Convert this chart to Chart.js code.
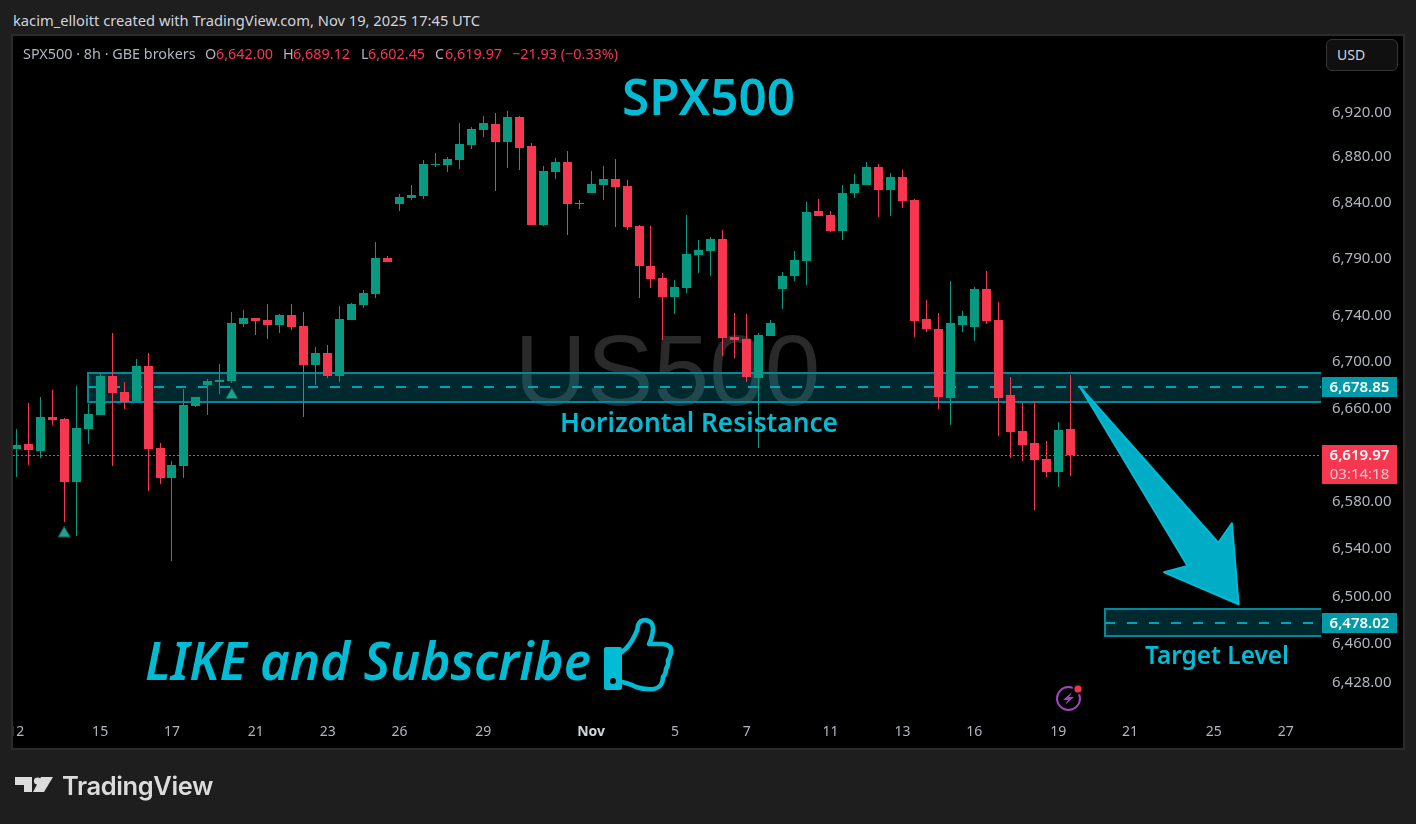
<!DOCTYPE html>
<html>
<head>
<meta charset="utf-8">
<title>SPX500 8h</title>
<script src="https://cdn.jsdelivr.net/npm/chart.js@4/dist/chart.umd.min.js"></script>
<style>
    html, body { margin: 0; padding: 0; width: 1416px; height: 824px; overflow: hidden; background: #1e1e1e; font-family: "Noto Sans", sans-serif; }
    #panel { position: absolute; left: 13px; top: 36px; width: 1390px; height: 712px; background: #000; outline: 2px solid #2b2b2b; }
    #chart { display: block; }
    #credit { position: absolute; left: 13px; top: 11px; font-size: 14.7px; line-height: 18px; color: #d1d4dc; white-space: nowrap; }
    .leg { position: absolute; top: 45px; font-size: 14.4px; line-height: 18px; white-space: nowrap; color: #b2b5be; }
    .leg.red { color: #f7374f; }
    #usd { position: absolute; left: 1326px; top: 39px; width: 72px; height: 32px; box-sizing: border-box; background: #101010; border: 1px solid #363636; border-radius: 6px; color: #d1d4dc; font-size: 14px; line-height: 30px; padding-left: 10px; }
    #logoText { position: absolute; left: 62px; top: 768px; font-family: Inter, sans-serif; font-weight: 600; font-size: 25.5px; line-height: 36px; letter-spacing: -0.4px; color: #dcdcdc; }
    svg.icon { position: absolute; left: 0; top: 0; pointer-events: none; }
</style>
</head>
<body>
<div id="credit">kacim_elloitt created with TradingView.com, Nov 19, 2025 17:45 UTC</div>
<div id="panel"><canvas id="chart" width="1390" height="712"></canvas></div>
<div id="legend"></div>
<div id="usd">USD</div>
<svg class="icon" width="1416" height="824">
    <!-- thumbs up -->
    <path d="M606 647 H620 Q622 647 622 649 V688 Q622 690 620 690 H606 Q604 690 604 688 V649 Q604 647 606 647 Z" fill="#00bcd4"/>
    <circle cx="613" cy="681" r="3" fill="#000"/>
    <path d="M622 652 Q630 646 635 635 Q638 630 638 625 Q640 620 645 620 Q653 621 653 628 Q653 636 649 644 L663 644 Q672 645 671 652 Q670 658 668 660 Q669 665 666 669 Q666 674 663 677 Q663 687 654 689 Q645 690 636 687 Q628 683 622 682" fill="none" stroke="#00bcd4" stroke-width="4.6" stroke-linejoin="round" stroke-linecap="round"/>
    <!-- alert bolt -->
    <circle cx="1068.5" cy="698.5" r="11.5" fill="none" stroke="#a445c0" stroke-width="2"/>
    <path d="M1072 692 L1063 700 L1068 700 L1065 705 L1074 697 L1069 697 Z" fill="#a445c0"/>
    <circle cx="1078" cy="689" r="5.5" fill="#111"/>
    <circle cx="1078" cy="689" r="3.5" fill="#f23645"/>
    <!-- TradingView mark -->
    <path d="M15 777 H32 V792 H24 V785 H15 Z" fill="#dcdcdc"/>
    <circle cx="37.5" cy="781" r="3.6" fill="#dcdcdc"/>
    <path d="M41 777 H53 L44 792 H33 Z" fill="#dcdcdc"/>
</svg>
<div id="logoText">TradingView</div>

<script>
    /* ---- Candles (oldest first) ---- */
    var opens = [6625.1, 6629.4, 6623.3, 6652.6, 6650.9, 6596.9, 6642.3, 6654.3, 6688.0, 6674.1,
        6666.1, 6696.6, 6625.9, 6600.3, 6610.5, 6662.0, 6680.2, 6682.8, 6683.7, 6733.1,
        6738.3, 6736.6, 6732.3, 6741.0, 6731.4, 6697.5, 6707.9, 6688.0, 6736.6, 6749.7,
        6759.2, 6790.9, 6838.5, 6843.8, 6845.5, 6873.1, 6873.1, 6877.5, 6890.9, 6904.3,
        6909.6, 6893.6, 6915.9, 6890.0, 6820.0, 6866.9, 6875.7, 6839.1, 6848.2, 6855.3,
        6860.6, 6854.4, 6819.1, 6783.9, 6773.3, 6756.6, 6764.5, 6793.5, 6797.0, 6807.7,
        6721.8, 6720.1, 6686.3, 6722.7, 6763.6, 6775.1, 6788.2, 6832.3, 6828.8, 6814.7,
        6848.2, 6855.3, 6871.3, 6850.9, 6862.4, 6842.0, 6737.5, 6728.8, 6668.9, 6732.3,
        6730.5, 6763.6, 6736.6, 6671.5, 6640.5, 6630.2, 6616.5, 6605.4, 6642.0];
    var highs = [6642.3, 6664.6, 6669.8, 6675.9, 6651.7, 6679.3, 6663.8, 6689.7, 6725.3, 6682.8,
        6702.7, 6707.9, 6630.2, 6614.8, 6676.8, 6669.8, 6685.4, 6698.4, 6743.6, 6745.3,
        6738.3, 6750.5, 6741.8, 6750.5, 6743.6, 6713.1, 6714.9, 6748.8, 6751.4, 6762.8,
        6805.0, 6792.6, 6847.3, 6855.3, 6877.5, 6883.7, 6880.2, 6910.5, 6907.0, 6916.8,
        6919.5, 6921.3, 6916.8, 6892.7, 6872.2, 6879.3, 6885.5, 6842.0, 6867.8, 6872.2,
        6878.4, 6859.7, 6820.0, 6819.1, 6777.7, 6771.6, 6828.8, 6806.8, 6809.4, 6815.5,
        6742.7, 6741.8, 6725.3, 6736.6, 6778.6, 6797.0, 6840.2, 6842.9, 6832.3, 6855.3,
        6865.1, 6875.7, 6874.0, 6866.0, 6868.6, 6842.9, 6754.0, 6742.7, 6770.7, 6744.4,
        6765.4, 6779.5, 6752.3, 6687.1, 6664.6, 6665.5, 6632.0, 6648.3, 6689.12];
    var lows = [6601.4, 6611.6, 6617.6, 6645.7, 6563.1, 6551.0, 6629.4, 6654.3, 6610.5, 6659.5,
        6665.5, 6589.2, 6595.2, 6529.8, 6600.3, 6661.2, 6654.3, 6672.4, 6681.9, 6730.5,
        6723.6, 6720.1, 6725.3, 6727.9, 6652.6, 6680.2, 6686.3, 6682.8, 6736.6, 6747.0,
        6755.7, 6787.4, 6832.3, 6842.0, 6842.9, 6871.3, 6866.9, 6869.5, 6887.3, 6898.0,
        6850.0, 6870.4, 6868.6, 6820.0, 6819.1, 6860.6, 6811.1, 6834.1, 6848.2, 6842.0,
        6818.2, 6815.6, 6755.7, 6764.5, 6719.2, 6741.8, 6760.1, 6777.7, 6775.1, 6705.3,
        6703.6, 6682.8, 6625.9, 6722.7, 6746.2, 6770.7, 6767.2, 6827.9, 6813.8, 6806.8,
        6843.8, 6855.3, 6827.0, 6827.9, 6834.9, 6721.8, 6726.2, 6659.5, 6645.7, 6726.2,
        6718.3, 6733.1, 6636.2, 6617.4, 6614.8, 6573.0, 6601.1, 6592.6, 6602.45];
    var closes = [6628.5, 6624.2, 6652.6, 6650.0, 6596.9, 6643.1, 6655.2, 6688.0, 6673.3, 6665.5,
        6696.6, 6625.1, 6600.3, 6611.4, 6662.9, 6669.8, 6683.7, 6684.5, 6734.0, 6738.3,
        6735.7, 6732.3, 6741.0, 6730.5, 6697.5, 6707.9, 6688.0, 6737.5, 6750.5, 6760.1,
        6790.9, 6787.4, 6844.7, 6846.4, 6874.0, 6874.0, 6878.4, 6891.8, 6905.2, 6910.5,
        6893.6, 6915.9, 6888.2, 6820.0, 6867.8, 6875.7, 6838.5, 6838.2, 6856.2, 6860.6,
        6853.5, 6818.2, 6783.9, 6772.4, 6756.6, 6765.4, 6794.4, 6797.9, 6807.7, 6720.9,
        6719.2, 6687.1, 6723.6, 6734.0, 6775.1, 6789.1, 6831.4, 6827.9, 6814.7, 6848.2,
        6856.2, 6871.3, 6850.9, 6862.4, 6841.1, 6735.7, 6728.8, 6669.8, 6734.0, 6740.1,
        6763.6, 6735.7, 6668.9, 6639.7, 6628.5, 6615.7, 6605.4, 6641.4, 6619.97];

    /* ---- Axes ---- */
    var priceTicks = [6920, 6880, 6840, 6790, 6740, 6700, 6660, 6580, 6540, 6500, 6460, 6428];
    var timeTickIndex = [0, 7, 13, 20, 26, 32, 39, 48, 55, 61, 68, 74, 80, 87, 93, 100, 106];
    var timeTickLabels = ['12', '15', '17', '21', '23', '26', '29', 'Nov', '5', '7', '11', '13', '16', '19', '21', '25', '27'];

    /* ---- Signal markers and levels ---- */
    var markerIndex = [4, 18];
    var markerPrice = [6553.1, 6671.5];
    var lastPrice = 6619.97;
    var resistanceLevel = 6678.85;
    var resistanceTop = 6691.0;
    var resistanceBottom = 6665.7;
    var targetLevel = 6478.02;
    var targetTop = 6489.2;
    var targetBottom = 6466.5;

    var GREEN = '#089981';
    var RED = '#f7374f';
    var CYAN = '#00bcd4';
    var UI_FONT = '"Noto Sans", sans-serif';
    var PAGE_X = 13, PAGE_Y = 36;

    /* ---- O H L C legend line ---- */
    var legendParts = [
        { x: 23, t: 'SPX500 · 8h · GBE brokers' },
        { x: 205, t: 'O' }, { x: 216, t: '6,642.00', red: 1 },
        { x: 283, t: 'H' }, { x: 293, t: '6,689.12', red: 1 },
        { x: 361, t: 'L' }, { x: 368, t: '6,602.45', red: 1 },
        { x: 435, t: 'C' }, { x: 445, t: '6,619.97', red: 1 },
        { x: 512, t: '−21.93 (−0.33%)', red: 1 }
    ];
    legendParts.forEach(function(p) {
        var el = document.createElement('div');
        el.className = 'leg' + (p.red ? ' red' : '');
        el.style.left = p.x + 'px';
        el.textContent = p.t;
        document.getElementById('legend').appendChild(el);
    });

    function fmtPrice(v) {
        return v.toLocaleString('en-US', { minimumFractionDigits: 2, maximumFractionDigits: 2 });
    }

    function candleColor(i) { return closes[i] >= opens[i] ? GREEN : RED; }

    // keep axis labels from pushing the plot area in
    function noPadding(s) {
        s.paddingLeft = s.paddingRight = s.paddingTop = s.paddingBottom = 0;
    }

    /* ---- Drawing helpers used by the plugin ---- */
    function zone(ctx, chart, startIndex, top, bottom, level) {
        var x = chart.scales.x, y = chart.scales.y, area = chart.chartArea;
        var left = Math.round(x.getPixelForValue(startIndex));
        var t = Math.round(y.getPixelForValue(top));
        var b = Math.round(y.getPixelForValue(bottom));
        var m = Math.round(y.getPixelForValue(level));
        ctx.fillStyle = 'rgba(0,188,212,.22)';
        ctx.fillRect(left, t, area.right - left, b - t);
        ctx.strokeStyle = '#00899b';
        ctx.lineWidth = 2;
        ctx.beginPath();
        ctx.moveTo(area.right, t);
        ctx.lineTo(left, t);
        ctx.lineTo(left, b);
        ctx.lineTo(area.right, b);
        ctx.stroke();
        ctx.save();
        ctx.strokeStyle = '#00a3b5';
        ctx.setLineDash([10, 12]);
        ctx.beginPath();
        ctx.moveTo(left, m);
        ctx.lineTo(area.right, m);
        ctx.stroke();
        ctx.restore();
    }

    function badge(ctx, y, h, color, lines) {
        ctx.fillStyle = color;
        ctx.fillRect(1309, y, 75, h);
        ctx.textAlign = 'center';
        ctx.textBaseline = 'middle';
        lines.forEach(function(l, i) {
            ctx.fillStyle = l.color;
            ctx.font = l.font;
            ctx.fillText(l.text, 1346.5, y + 10.5 + i * 19);
        });
    }

    function label(ctx, text, x0, x1, yMid, font) {
        ctx.font = font;
        ctx.fillStyle = CYAN;
        ctx.textAlign = 'left';
        ctx.textBaseline = 'middle';
        ctx.fillText(text, x0, yMid, x1 - x0);
    }

    var overlayPlugin = {
        id: 'overlay',
        // pixel snap so wicks and bodies come out crisp
        afterDatasetsUpdate: function(chart) {
            [0, 1].forEach(function(d) {
                chart.getDatasetMeta(d).data.forEach(function(bar) {
                    bar.x = Math.floor(bar.x) + 0.5;
                    var top = Math.round(bar.y), base = Math.round(bar.base);
                    if (top === base) base = top + 1;
                    bar.y = top;
                    bar.base = base;
                });
            });
        },
        beforeDatasetsDraw: function(chart) {
            var ctx = chart.ctx, area = chart.chartArea, y = chart.scales.y;
            ctx.save();
            // watermark
            ctx.font = '100px "Liberation Sans", Arial, sans-serif';
            ctx.fillStyle = '#2a2a2a';
            ctx.textAlign = 'center';
            ctx.textBaseline = 'middle';
            ctx.fillText('US500', 667.5 - PAGE_X, 377 - PAGE_Y);
            // last price line
            ctx.strokeStyle = RED;
            ctx.lineWidth = 1;
            ctx.setLineDash([2, 2]);
            var ly = Math.round(y.getPixelForValue(lastPrice)) + 0.5;
            ctx.beginPath();
            ctx.moveTo(area.left, ly);
            ctx.lineTo(area.right, ly);
            ctx.stroke();
            ctx.setLineDash([]);
            zone(ctx, chart, 6, resistanceTop, resistanceBottom, resistanceLevel);
            zone(ctx, chart, 90.9, targetTop, targetBottom, targetLevel);
            ctx.restore();
        },
        afterDraw: function(chart) {
            var ctx = chart.ctx, x = chart.scales.x, y = chart.scales.y;
            ctx.save();

            // arrow, in bar index / price
            var arrow = [[88.81, 6678.85], [100.37, 6545.3], [101.51, 6561.7], [102.07, 6493.4], [95.85, 6520.3], [97.81, 6525.6]];
            ctx.beginPath();
            arrow.forEach(function(p, i) {
                var px = x.getPixelForValue(p[0]), py = y.getPixelForValue(p[1]);
                if (i === 0) ctx.moveTo(px, py); else ctx.lineTo(px, py);
            });
            ctx.closePath();
            ctx.fillStyle = '#00acc6';
            ctx.fill();
            ctx.strokeStyle = CYAN;
            ctx.lineWidth = 2;
            ctx.lineJoin = 'round';
            ctx.stroke();

            // page coordinates from here on
            ctx.translate(-PAGE_X, -PAGE_Y);
            label(ctx, 'SPX500', 622, 795, 101, '600 50px ' + UI_FONT);
            label(ctx, 'Horizontal Resistance', 560, 838, 424, '600 27px ' + UI_FONT);
            label(ctx, 'Target Level', 1145, 1289, 657, '600 26px ' + UI_FONT);
            label(ctx, 'LIKE and Subscribe', 145, 591, 665, 'italic 600 52px ' + UI_FONT);
            ctx.translate(PAGE_X, PAGE_Y);

            // price badges
            var f = '600 15px ' + UI_FONT;
            badge(ctx, Math.round(y.getPixelForValue(resistanceLevel)) - 10, 20, '#009aa9', [{ text: fmtPrice(resistanceLevel), font: f, color: '#fff' }]);
            badge(ctx, Math.round(y.getPixelForValue(targetLevel)) - 10, 20, '#009aa9', [{ text: fmtPrice(targetLevel), font: f, color: '#fff' }]);
            badge(ctx, Math.round(y.getPixelForValue(lastPrice)) - 10, 39, RED, [
                { text: fmtPrice(lastPrice), font: f, color: '#fff' },
                { text: '03:14:18', font: '15px ' + UI_FONT, color: '#ffc4cc' }
            ]);
            ctx.restore();
        }
    };

    /* ---- Chart ---- */
    var indexes = closes.map(function(c, i) { return i; });

    var chart = new Chart(document.getElementById('chart').getContext('2d'), {
        type: 'bar',
        data: {
            datasets: [{
                label: 'body',
                data: indexes.map(function(i) { return { x: i, y: [opens[i], closes[i]] }; }),
                backgroundColor: indexes.map(candleColor),
                barThickness: 9, grouped: false, inflateAmount: 0, borderWidth: 0, order: 1
            }, {
                label: 'wick',
                data: indexes.map(function(i) { return { x: i, y: [lows[i], highs[i]] }; }),
                backgroundColor: indexes.map(candleColor),
                barThickness: 1, grouped: false, inflateAmount: 0, borderWidth: 0, order: 2
            }, {
                type: 'line',
                label: 'signals',
                data: markerIndex.map(function(v, i) { return { x: v, y: markerPrice[i] }; }),
                showLine: false, pointStyle: 'triangle', pointRadius: 7,
                pointBackgroundColor: '#23a08f', pointBorderColor: '#0b5c52', pointBorderWidth: 1, order: 0
            }]
        },
        options: {
            responsive: false, animation: false,
            layout: { padding: 0, autoPadding: false },
            plugins: { legend: { display: false }, tooltip: { enabled: false } },
            scales: {
                x: {
                    type: 'linear', bounds: 'data', offset: false, min: -0.276, max: 108.95,
                    grid: { display: false, drawTicks: false, offset: false }, border: { display: false },
                    afterFit: function(s) { s.height = 28; noPadding(s); },
                    afterBuildTicks: function(s) { s.ticks = timeTickIndex.map(function(v) { return { value: v }; }); },
                    ticks: {
                        autoSkip: false, maxRotation: 0, padding: 4,
                        color: function(c) { return c.index === 7 ? '#d1d4dc' : '#b2b5be'; },
                        font: function(c) { return { family: UI_FONT, size: 14, weight: c.index === 7 ? '700' : '400' }; },
                        callback: function(v) { return timeTickLabels[timeTickIndex.indexOf(v)]; }
                    }
                },
                y: {
                    type: 'logarithmic', position: 'right', bounds: 'data', min: 6396.9, max: 6988.7,
                    grid: { display: false, drawTicks: false }, border: { display: false },
                    afterFit: function(s) { s.width = 82; noPadding(s); },
                    afterBuildTicks: function(s) { s.ticks = priceTicks.map(function(v) { return { value: v }; }); },
                    ticks: {
                        autoSkip: false, padding: 11, color: '#b2b5be',
                        font: { family: UI_FONT, size: 15 },
                        callback: function(v) { return fmtPrice(v); }
                    }
                }
            }
        },
        plugins: [overlayPlugin]
    });
</script>
</body>
</html>
